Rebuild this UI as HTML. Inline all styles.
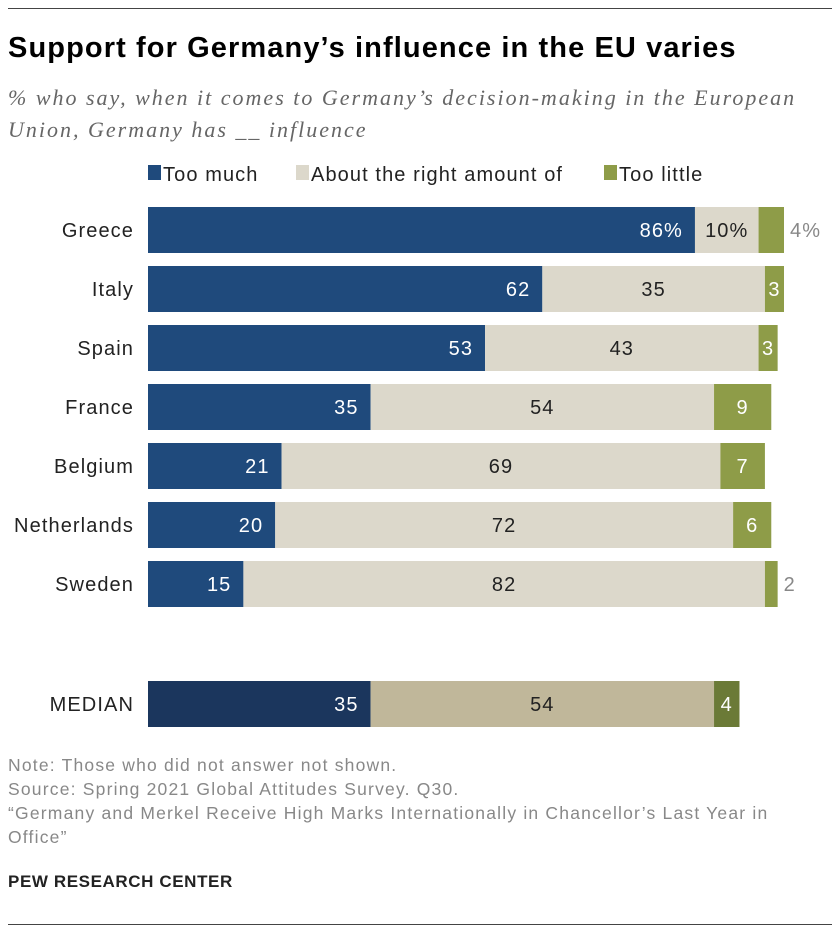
<!DOCTYPE html>
<html><head><meta charset="utf-8"><style>
body{margin:0;background:#fff;font-family:"Liberation Sans",sans-serif;}
#c{position:relative;width:840px;height:932px;overflow:hidden}
.t{position:absolute;white-space:nowrap}
</style></head><body>
<div id="c">
<div class="t" style="left:8px;top:8px;width:824px;height:1px;background:#444"></div>
<div class="t" style="left:8px;top:32px;font-size:29px;font-weight:bold;color:#000;letter-spacing:1.1px">Support for Germany’s influence in the EU varies</div>
<div class="t" style="left:8px;top:82px;font-size:22px;font-style:italic;color:#666;line-height:32px;letter-spacing:2px;font-family:'Liberation Serif',serif">% who say, when it comes to Germany’s decision-making in the European<br>Union, Germany has __ influence</div>
<svg id="s" class="t" style="left:0;top:0" width="840" height="932"></svg>
<div class="t" style="left:8px;top:753px;font-size:17.5px;color:#888;line-height:24px;letter-spacing:1.2px">Note: Those who did not answer not shown.<br>Source: Spring 2021 Global Attitudes Survey. Q30.<br>“Germany and Merkel Receive High Marks Internationally in Chancellor’s Last Year in<br>Office”</div>
<div class="t" style="left:8px;top:872px;font-size:17px;font-weight:bold;color:#222;letter-spacing:0.6px">PEW RESEARCH CENTER</div>
<div class="t" style="left:8px;top:924px;width:824px;height:1px;background:#444"></div>
</div>
<script>
const countries=["Greece","Italy","Spain","France","Belgium","Netherlands","Sweden","MEDIAN"];
const tooMuch=[86,62,53,35,21,20,15,35];
const aboutRight=[10,35,43,54,69,72,82,54];
const tooLittle=[4,3,3,9,7,6,2,4];
const ns="http://www.w3.org/2000/svg";
const s=document.getElementById('s');
const x0=148,k=6.36;
const xs=v=>v*k;
const rowY=i=>i<7?207+i*59:681;
function el(t,a){const e=document.createElementNS(ns,t);for(const n in a)e.setAttribute(n,a[n]);s.appendChild(e);return e;}
function txt(x,y,str,anchor,fill){const e=el('text',{x:x,y:y,'text-anchor':anchor,fill:fill,'font-size':20,'letter-spacing':1.1,'font-family':'Liberation Sans, sans-serif'});e.textContent=str;return e;}
const leg=[["Too much","#1f4a7c",163],["About the right amount of","#dcd8cb",311],["Too little","#8e9c48",619]];
leg.forEach(l=>{const r=el('rect',{x:l[2]-15,y:165,width:13,height:15,fill:l[1]});

const t=txt(l[2],181,l[0],'start','#222');});
countries.forEach((c,i)=>{
 const y=rowY(i),h=46,med=i===7;
 const cols=med?["#1b365d","#c0b79a","#6b7a37"]:["#1f4a7c","#dcd8cb","#8e9c48"];
 const lab=txt(134,y+30,c,'end','#222');
 const vals=[tooMuch[i],aboutRight[i],tooLittle[i]];
 let x=x0;
 vals.forEach((v,j)=>{
  const w=xs(v);
  const r=el('rect',{x:x,y:y,width:w,height:h,fill:cols[j]});
  
  let str=String(v)+(i===0?'%':'');
  let t;
  if(j===2&&v<3||(i===0&&j===2)){t=txt(x+w+6,y+30,str,'start','#888');}
  else if(j===0){t=txt(x+w-12,y+30,str,'end','#fff');}
  else {t=txt(x+w/2,y+30,str,'middle',j===1?'#222':'#fff');}
  
  x+=w;
 });
});
</script>
</body></html>
